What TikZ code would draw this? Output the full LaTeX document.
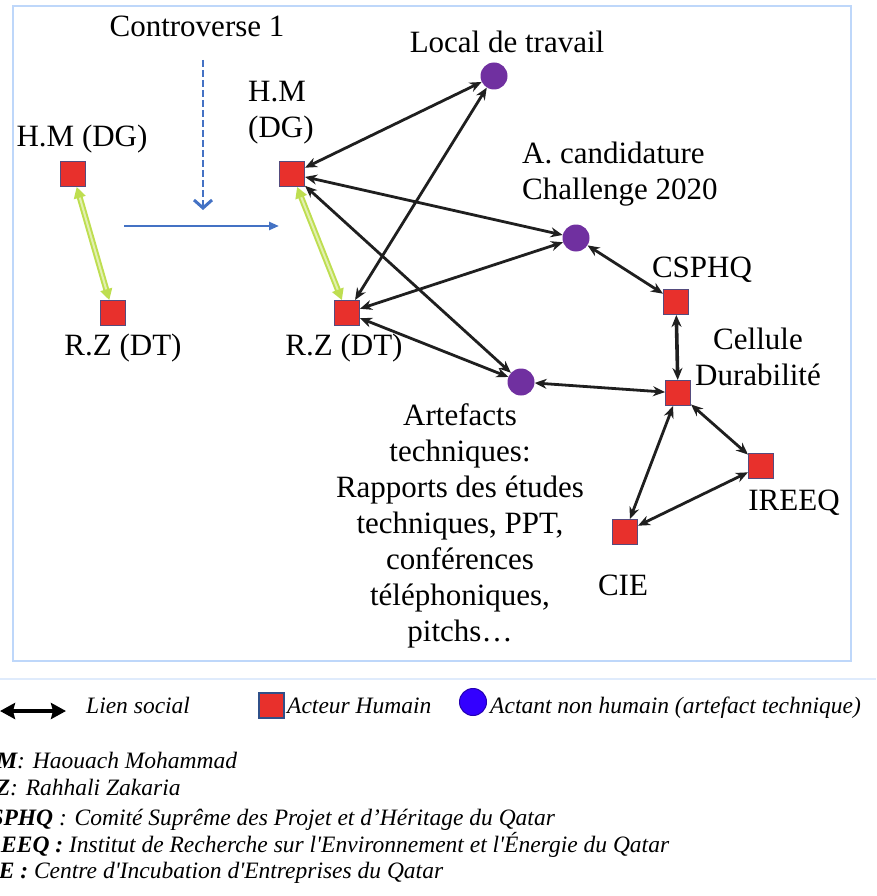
\documentclass[tikz,border=0pt]{standalone}
\usepackage{fontspec}
\setmainfont{Liberation Serif}
\usetikzlibrary{arrows.meta}
\definecolor{actred}{RGB}{232,48,44}
\definecolor{actedge}{RGB}{85,75,125}
\definecolor{artpurple}{RGB}{112,48,160}
\definecolor{legblue}{RGB}{51,0,255}
\definecolor{framebl}{RGB}{190,215,250}
\definecolor{ctrblue}{RGB}{68,114,196}
\definecolor{limeg}{RGB}{190,222,80}
\newcommand{\sq}{\textquotesingle}

\begin{document}
\begin{tikzpicture}[
  x=1pt, y=-1pt,
  acteur/.style={draw=actedge, fill=actred, line width=1pt, minimum size=25pt, inner sep=0pt},
  actant/.style={circle, fill=artpurple, minimum size=27pt, inner sep=0pt},
  lbl/.style={font=\fontsize{31}{36}\selectfont, inner sep=0pt, anchor=base},
  leg/.style={font=\fontsize{23.5}{27.5}\selectfont\itshape, inner sep=0pt, anchor=base west},
  lien/.style={{Stealth[length=12pt,width=10pt]}-{Stealth[length=12pt,width=10pt]},
               line width=2.8pt, draw=black!88},
  duo/.style={draw=limeg, double=limeg!45, double distance=2pt, line width=2pt,
              {Triangle[length=11pt,width=12pt]}-{Triangle[length=11pt,width=12pt]}},
  ctrl/.style={draw=ctrblue, line width=2.8pt, dash pattern=on 7pt off 3pt,
               -{Straight Barb[length=8pt,width=18pt,line width=3pt]}},
  evol/.style={draw=ctrblue, line width=2.4pt, -{Triangle[length=10pt,width=8pt]}}
]
\useasboundingbox (0,0) rectangle (876,896);
\clip (0,0) rectangle (876,896);

% Frame
\draw[framebl, line width=2pt] (13,6) rectangle (851,661);
\draw[framebl!50, line width=1.5pt] (0,679) -- (876,679);

% Before the controversy
\node[acteur] (hm1) at (73,174) {};
\node[acteur] (rz1) at (113,313) {};
\node[lbl] (hm1Lbl) at (82,147) {H.M (DG)};
\node[lbl] (rz1Lbl) at (123,355) {R.Z (DT)};
\draw[duo] (hm1) -- (rz1);

% Controversy
\node[lbl] (ctrLbl) at (197,37) {Controverse 1};
\coordinate (ctrTop) at (203,60);
\coordinate (ctrBot) at (203,210);
\draw[ctrl] (ctrTop) -- (ctrBot);
\coordinate (evA) at (124,226);
\coordinate (evB) at (279,226);
\draw[evol] (evA) -- (evB);

% Actors
\node[acteur] (hm2) at (292,174) {};
\node[acteur] (rz2) at (347,313) {};
\node[acteur] (csphq) at (676,302) {};
\node[acteur] (cellule) at (678,393) {};
\node[acteur] (ireeq) at (761,466) {};
\node[acteur] (cie) at (625,532) {};

% Actants
\node[actant] (local) at (494,76) {};
\node[actant] (cand) at (576,238) {};
\node[actant] (artef) at (521,382) {};

% Labels (multi-line ones sit on their last baseline)
\node[lbl, anchor=base west, align=left] (hm2Lbl) at (248,138) {H.M\\(DG)};
\node[lbl] (rz2Lbl) at (344,355) {R.Z (DT)};
\node[lbl] (localLbl) at (507,53) {Local de travail};
\node[lbl, anchor=base west, align=left] (candLbl) at (522,200) {A. candidature\\Challenge 2020};
\node[lbl] (csphqLbl) at (702,277) {CSPHQ};
\node[lbl, align=center] (celluleLbl) at (758,385) {Cellule\\Durabilité};
\node[lbl, align=center] (artefLbl) at (460,641)
  {Artefacts\\techniques:\\Rapports des études\\techniques, PPT,\\conférences\\téléphoniques,\\pitchs…};
\node[lbl] (ireeqLbl) at (794,510) {IREEQ};
\node[lbl] (cieLbl) at (623,595) {CIE};

% Social links
\draw[duo] (hm2) -- (rz2);
\draw[lien] (hm2) -- (local);
\draw[lien] (rz2) -- (local);
\draw[lien] (hm2) -- (cand);
\draw[lien] (rz2) -- (cand);
\draw[lien] (hm2) -- (artef);
\draw[lien] (rz2) -- (artef);
\draw[lien] (cand) -- (csphq);
\draw[lien, line width=3.6pt] (csphq) -- (cellule);
\draw[lien] (artef) -- (cellule);
\draw[lien] (cellule) -- (ireeq);
\draw[lien] (cellule) -- (cie);
\draw[lien] (ireeq) -- (cie);

% Legend
\coordinate (legA) at (0,711);
\coordinate (legB) at (66,711);
\draw[line width=4pt, {Stealth[length=15pt,width=16pt,inset=2pt]}-{Stealth[length=15pt,width=16pt,inset=2pt]}]
  (legA) -- (legB);
\node[leg] (legLien) at (86,713) {Lien social};
\node[acteur, draw=ctrblue!70!black, line width=2pt] (legActeur) at (271,705) {};
\node[leg] (legActeurTxt) at (287,713) {Acteur Humain};
\node[circle, fill=legblue, draw=legblue!70!black, line width=1pt, minimum size=27pt, inner sep=0pt]
  (legActant) at (473,702) {};
\node[leg] (legActantTxt) at (490,713) {Actant non humain (artefact technique)};

% Abbreviations
\node[leg] (defHM) at (17,768) {\llap{\bfseries H.M}: Haouach Mohammad};
\node[leg] (defRZ) at (10,795) {\llap{\bfseries R.Z}: Rahhali Zakaria};
\node[leg] (defCS) at (53,825) {\llap{\bfseries CSPHQ} : Comité Suprême des Projet et d’Héritage du Qatar};
\node[leg] (defIR) at (63,852) {\llap{\bfseries IREEQ :} Institut de Recherche sur l\sq Environnement et l\sq Énergie du Qatar};
\node[leg] (defCI) at (28,878) {\llap{\bfseries CIE :} Centre d\sq Incubation d\sq Entreprises du Qatar};
\end{tikzpicture}
\end{document}
